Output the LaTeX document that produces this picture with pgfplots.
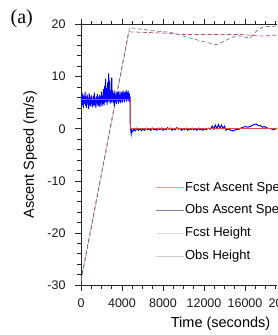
\documentclass[border=0pt]{standalone}
\usepackage{fontspec}
\setmainfont{Liberation Sans}
\newfontfamily\seriffont{Liberation Serif}
\usepackage{pgfplots}
\pgfplotsset{compat=1.18}
\definecolor{fcstred}{RGB}{225,70,70}
\definecolor{obsblue}{RGB}{0,0,255}
\definecolor{fhred}{RGB}{195,70,95}
\definecolor{ohgray}{RGB}{110,120,155}
\definecolor{legobs}{RGB}{120,130,170}
\definecolor{legfcst}{RGB}{235,150,150}
\begin{document}
\begin{tikzpicture}
\path[use as bounding box] (0,0) rectangle (277pt,335pt);
\clip (0,0) rectangle (277pt,335pt);
\node[anchor=north west, inner sep=0pt, font=\seriffont\fontsize{20}{20}\selectfont] at (10.5pt,326pt) {(a)};
\begin{axis}[
  at={(81pt,50pt)}, anchor=south west,
  scale only axis, width=287pt, height=260.5pt,
  xmin=0, xmax=28000, ymin=-30, ymax=20,
  xtick={0,4000,...,24000}, ytick={-30,-20,...,20},
  minor x tick num=3, minor y tick num=4,
  tick align=outside, major tick length=6pt, minor tick length=3.5pt,
  scaled x ticks=false,
  /pgf/number format/1000 sep={},
  /pgf/number format/assume math mode=true,
  tick label style={font=\fontsize{12.5}{12.5}\selectfont, text=black!90},
  xticklabel style={yshift=-4.5pt},
  yticklabel style={xshift=-6pt},
  axis line style={black!85, line width=0.8pt},
  every tick/.style={black!85, line width=0.6pt},
  xlabel={Time (seconds)},
  xlabel style={at={(rel axis cs:0,0)}, anchor=north west, inner sep=0pt, xshift=89.7pt, yshift=-31.5pt, font=\fontsize{14.5}{14.5}\selectfont},
  ylabel={Ascent Speed (m/s)},
  ylabel style={at={(rel axis cs:0,0.5)}, anchor=base, inner sep=0pt, yshift=47pt, font=\fontsize{14.5}{14.5}\selectfont},
  legend image code/.code={\draw[#1] (0pt,0pt) -- (28pt,0pt);},
  legend cell align=left,
  legend style={at={(0.2579,0.244)}, anchor=west, draw=none, fill=none,
    font=\fontsize{13}{13}\selectfont, row sep=10pt, inner sep=0pt,
    nodes={inner sep=1pt}},
  legend entries={Fcst Ascent Speed, Obs Ascent Speed, Fcst Height, Obs Height},
]
\addlegendimage{draw=legfcst, line width=0.8pt}
\addlegendimage{draw=legobs, line width=0.9pt}
\addlegendimage{draw=black!15, line width=0.6pt}
\addlegendimage{draw=black!20, line width=0.6pt}

% Fcst Height
\addplot[forget plot, color=fhred, line width=0.7pt, dash pattern=on 4pt off 2.5pt] coordinates {
(0,-29.0) (4650,18.6) (8700,18.3) (9700,18.1) (15500,18.1) (17100,17.85) (17800,17.8) (20000,18.1) (24000,18.3) (28000,18.3)
};
% Obs Height
\addplot[forget plot, color=ohgray, line width=0.7pt, dash pattern=on 4pt off 2.5pt] coordinates {
(0,-29.3) (4750,19.4) (7000,18.8) (8700,18.5) (10300,17.6) (11600,16.9) (13200,16.1) (14500,17.3) (15200,17.9) (16500,17.4) (17100,18.7) (17800,19.6) (20000,19.7) (24000,19.5) (28000,19.4)
};
% Obs Ascent Speed
\addplot[forget plot, color=obsblue, line width=1pt] coordinates {
(0,5.8) (50,4.2) (100,6.9) (150,4.6) (200,6.5) (250,3.9) (300,6.2) (350,4.8) (400,7.0) (450,4.4)
(500,6.1) (550,4.0) (600,6.6) (650,4.9) (700,5.9) (750,3.8) (800,6.8) (850,4.5) (900,6.0) (950,4.3)
(1000,6.4) (1050,4.7) (1100,5.7) (1150,4.1) (1200,6.3) (1250,4.6) (1300,6.9) (1350,4.4) (1400,5.8) (1450,4.0)
(1500,6.2) (1550,4.8) (1600,6.7) (1650,4.3) (1700,6.0) (1750,4.5) (1800,6.5) (1850,4.2) (1900,6.3) (1950,4.9)
(2000,7.1) (2050,4.4) (2100,6.4) (2150,4.7) (2200,7.6) (2250,4.5) (2300,8.2) (2350,5.0) (2400,9.6) (2450,5.2)
(2500,7.8) (2550,4.6) (2600,8.9) (2650,5.1) (2700,10.6) (2750,5.4) (2800,9.2) (2850,4.8) (2900,7.4) (2950,5.0)
(3000,9.8) (3050,5.3) (3100,7.2) (3150,4.9) (3200,6.8) (3250,4.4) (3300,7.3) (3350,5.1) (3400,6.6) (3450,4.7)
(3500,7.0) (3550,5.3) (3600,6.9) (3650,4.8) (3700,7.2) (3750,5.2) (3800,6.5) (3850,4.9) (3900,7.1) (3950,5.4)
(4000,6.8) (4050,5.0) (4100,7.3) (4150,5.5) (4200,6.9) (4250,5.1) (4300,7.0) (4350,5.6) (4400,7.4) (4450,5.2)
(4500,7.0) (4550,5.5) (4600,7.3) (4650,5.3) (4700,6.8) (4750,5.7) (4790,6.2)
(4800,1.0) (4850,-0.2) (4900,-1.0) (4950,-0.3) (5050,-0.6) (5150,-0.1) (5300,-0.4) (5450,0.1) (5600,-0.3) (5750,0.0)
(5900,-0.4) (6050,-0.1) (6200,-0.3) (6350,0.1) (6500,-0.2) (6650,0.0) (6800,-0.3) (6950,0.1) (7100,-0.2) (7250,-0.1)
(7400,-0.3) (7550,0.1) (7700,-0.2) (7850,0.1) (8000,-0.3) (8150,0.0) (8300,-0.2) (8450,0.2) (8600,-0.1) (8750,0.1)
(8900,-0.3) (9050,0.0) (9200,-0.2) (9350,0.2) (9500,-0.1) (9650,0.1) (9800,-0.3) (9950,0.0) (10100,-0.2) (10250,0.1)
(10400,-0.3) (10550,0.0) (10700,-0.2) (10850,0.1) (11000,-0.2) (11150,0.0) (11300,-0.3) (11450,0.1) (11600,-0.2) (11750,-0.1)
(11900,-0.3) (12050,0.0) (12200,-0.2) (12400,0.1) (12600,-0.1) (12800,0.5) (12950,-0.1) (13100,0.7) (13250,0.0) (13400,0.8)
(13550,0.1) (13700,0.7) (13850,0.0) (14000,0.5) (14150,-0.3) (14350,0.0) (14600,-0.3) (14850,-0.4) (15100,-0.2) (15400,-0.1)
(15700,0.2) (16000,0.4) (16300,0.3) (16600,0.5) (16900,0.8) (17100,0.9) (17300,0.6) (17500,0.6) (17700,0.3) (17900,0.4)
(18200,0.1) (18500,0.0) (18800,-0.2) (19100,0.1) (19400,-0.1) (19700,0.2) (20000,0.0) (20300,-0.2) (20600,0.1) (21000,0.0)
(22000,0.1) (23000,-0.1) (24000,0.0)
};
% Fcst Ascent Speed
\addplot[forget plot, color=fcstred, line width=0.7pt] coordinates {
(0,5.6) (4790,5.6) (4790,0) (28000,0)
};
\end{axis}
\end{tikzpicture}
\end{document}
